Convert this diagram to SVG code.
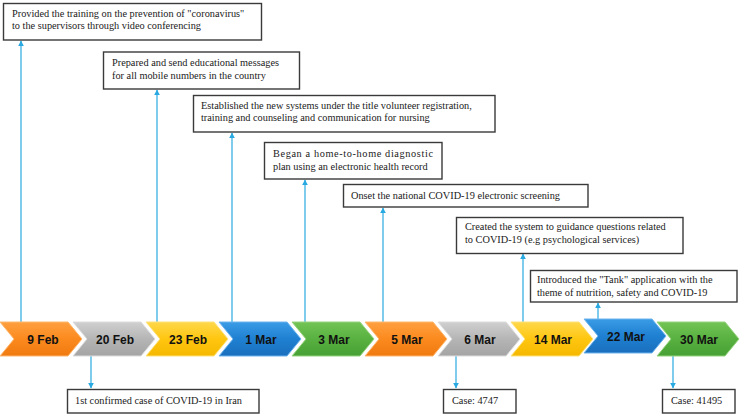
<svg xmlns="http://www.w3.org/2000/svg" xmlns:xlink="http://www.w3.org/1999/xlink" width="740" height="416" viewBox="0 0 740 416">
<style>
.box{fill:#fff;stroke:#3a3a3a;stroke-width:1.4}
.t{font-family:"Liberation Serif","Times New Roman",serif;font-size:10.3px;fill:#1a1a1a}
.c{font-family:"Liberation Sans",Arial,sans-serif;font-size:12px;font-weight:bold;fill:#111;text-anchor:middle}
.ar{stroke:#29a9e1;stroke-width:1.2;fill:none}
</style>
<defs>
<path id="chev" d="M0,0 H68 L82,17 L68,34 H0 L14,17 Z"/>
<marker id="ah" viewBox="0 0 10 10" refX="9" refY="5" markerWidth="6" markerHeight="6" markerUnits="userSpaceOnUse" orient="auto">
<path d="M0,0 L10,5 L0,10 Z" fill="#29a9e1"/>
</marker>
<linearGradient id="gO" x1="0" y1="0" x2="0" y2="1"><stop offset="0" stop-color="#ffa040"/><stop offset="0.5" stop-color="#fb8a1e"/><stop offset="1" stop-color="#f07a10"/></linearGradient>
<linearGradient id="gG" x1="0" y1="0" x2="0" y2="1"><stop offset="0" stop-color="#d0d0d0"/><stop offset="0.5" stop-color="#b5b5b5"/><stop offset="1" stop-color="#a4a4a4"/></linearGradient>
<linearGradient id="gY" x1="0" y1="0" x2="0" y2="1"><stop offset="0" stop-color="#ffd84a"/><stop offset="0.5" stop-color="#ffc610"/><stop offset="1" stop-color="#f5b800"/></linearGradient>
<linearGradient id="gB" x1="0" y1="0" x2="0" y2="1"><stop offset="0" stop-color="#3a9be6"/><stop offset="0.5" stop-color="#1f80d2"/><stop offset="1" stop-color="#1a6fbd"/></linearGradient>
<linearGradient id="gN" x1="0" y1="0" x2="0" y2="1"><stop offset="0" stop-color="#72c455"/><stop offset="0.5" stop-color="#58b140"/><stop offset="1" stop-color="#46a034"/></linearGradient>
</defs>
<rect width="740" height="416" fill="#fff"/>

<g id="connectors">
<line class="ar" x1="21" y1="322" x2="21" y2="41" marker-end="url(#ah)"/>
<line class="ar" x1="157" y1="322" x2="157" y2="90" marker-end="url(#ah)"/>
<line class="ar" x1="232" y1="322" x2="232" y2="133" marker-end="url(#ah)"/>
<line class="ar" x1="305" y1="322" x2="305" y2="180" marker-end="url(#ah)"/>
<line class="ar" x1="383" y1="322" x2="383" y2="208" marker-end="url(#ah)"/>
<line class="ar" x1="523" y1="322" x2="523" y2="254" marker-end="url(#ah)"/>
<line class="ar" x1="598" y1="319" x2="598" y2="303" marker-end="url(#ah)"/>
<line class="ar" x1="91" y1="356" x2="91" y2="388" marker-end="url(#ah)"/>
<line class="ar" x1="456" y1="356" x2="456" y2="388" marker-end="url(#ah)"/>
<line class="ar" x1="673" y1="356" x2="673" y2="388" marker-end="url(#ah)"/>
</g>

<g id="n-9feb"><use href="#chev" x="0" y="322" fill="url(#gO)" stroke="#ffb870" stroke-width="1"/><text class="c" x="43" y="343.5">9 Feb</text></g>
<g id="n-20feb"><use href="#chev" x="73" y="322" fill="url(#gG)" stroke="#dcdcdc" stroke-width="1"/><text class="c" x="115" y="343.5">20 Feb</text></g>
<g id="n-23feb"><use href="#chev" x="146" y="322" fill="url(#gY)" stroke="#ffe27a" stroke-width="1"/><text class="c" x="188" y="343.5">23 Feb</text></g>
<g id="n-1mar"><use href="#chev" x="219" y="322" fill="url(#gB)" stroke="#6cb4ee" stroke-width="1"/><text class="c" x="261" y="343.5">1 Mar</text></g>
<g id="n-3mar"><use href="#chev" x="292" y="322" fill="url(#gN)" stroke="#96d47e" stroke-width="1"/><text class="c" x="334" y="343.5">3 Mar</text></g>
<g id="n-5mar"><use href="#chev" x="365" y="322" fill="url(#gO)" stroke="#ffb870" stroke-width="1"/><text class="c" x="407" y="343.5">5 Mar</text></g>
<g id="n-6mar"><use href="#chev" x="438" y="322" fill="url(#gG)" stroke="#dcdcdc" stroke-width="1"/><text class="c" x="480" y="343.5">6 Mar</text></g>
<g id="n-14mar"><use href="#chev" x="511" y="322" fill="url(#gY)" stroke="#ffe27a" stroke-width="1"/><text class="c" x="553" y="343.5">14 Mar</text></g>
<g id="n-22mar"><use href="#chev" x="584" y="319" fill="url(#gB)" stroke="#6cb4ee" stroke-width="1"/><text class="c" x="626" y="340.5">22 Mar</text></g>
<g id="n-30mar"><use href="#chev" x="657" y="322" fill="url(#gN)" stroke="#96d47e" stroke-width="1"/><text class="c" x="699" y="343.5">30 Mar</text></g>

<g id="b1"><rect class="box" x="3.5" y="3.5" width="258" height="36.5"/><text class="t" x="12" y="16.5">Provided the training on the prevention of "coronavirus"</text><text class="t" x="12" y="29">to the supervisors through video conferencing</text></g>
<g id="b2"><rect class="box" x="103.5" y="52" width="196" height="37"/><text class="t" x="112" y="66">Prepared and send educational messages</text><text class="t" x="112" y="78.5">for all mobile numbers in the country</text></g>
<g id="b3"><rect class="box" x="193.5" y="95.5" width="301.5" height="36.5"/><text class="t" x="201" y="108.5">Established the new systems under the title volunteer registration,</text><text class="t" x="201" y="121">training and counseling and communication for nursing</text></g>
<g id="b4"><rect class="box" x="264.5" y="142.5" width="177.5" height="36.5"/><text class="t" x="273" y="157" textLength="160" lengthAdjust="spacing">Began a home-to-home diagnostic</text><text class="t" x="273" y="169.5">plan using an electronic health record</text></g>
<g id="b5"><rect class="box" x="343.5" y="184.5" width="244.5" height="22.5"/><text class="t" x="351" y="199">Onset the national COVID-19 electronic screening</text></g>
<g id="b6"><rect class="box" x="456.5" y="217.5" width="226.5" height="36"/><text class="t" x="465" y="230">Created the system to guidance questions related</text><text class="t" x="465" y="242.5">to COVID-19 (e.g psychological services)</text></g>
<g id="b7"><rect class="box" x="530.5" y="270.5" width="206.5" height="31.5"/><text class="t" x="537" y="283">Introduced the "Tank" application with the</text><text class="t" x="537" y="295.5">theme of nutrition, safety and COVID-19</text></g>
<g id="b8"><rect class="box" x="67.5" y="389.5" width="191.5" height="23.5"/><text class="t" x="75" y="404">1st confirmed case of COVID-19 in Iran</text></g>
<g id="b9"><rect class="box" x="443.5" y="389.5" width="72.5" height="23.5"/><text class="t" x="452" y="404">Case: 4747</text></g>
<g id="b10"><rect class="box" x="662.5" y="389.5" width="72.5" height="23.5"/><text class="t" x="671" y="404">Case: 41495</text></g>
</svg>
